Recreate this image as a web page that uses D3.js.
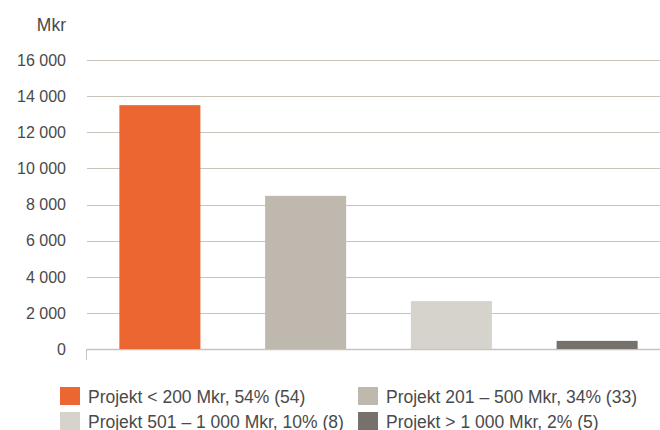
<!DOCTYPE html>
<html>
<head>
<meta charset="utf-8">
<script src="https://cdn.jsdelivr.net/npm/d3@7"></script>
<style>
  body { margin: 0; background: #fff; }
  text { font-family: "Liberation Sans", Arial, sans-serif; fill: #4a4a4a; }
</style>
</head>
<body>
<div id="chart"></div>
<script>
const categories = ["Projekt < 200 Mkr, 54% (54)", "Projekt 201 – 500 Mkr, 34% (33)",
    "Projekt 501 – 1 000 Mkr, 10% (8)", "Projekt > 1 000 Mkr, 2% (5)"];
const values = [13500, 8480, 2650, 450];
const colors = ["#ec6632", "#bfb8ae", "#d6d2cc", "#77716e"];
const yTicks = [0, 2000, 4000, 6000, 8000, 10000, 12000, 14000, 16000];
const unitLabel = "Mkr";

const width = 660, height = 430;

const svg = d3.select("#chart")
    .append("svg")
    .attr("width", width)
    .attr("height", height);

const x = d3.scaleBand()
    .domain(categories)
    .range([87, 670])
    .paddingInner(0.444)
    .paddingOuter(0.222);

const y = d3.scaleLinear()
    .domain([0, 16000])
    .range([349, 60]);

const fmt = d => d3.format(",")(d).replace(/,/g, " ");

// gridlines
svg.append("g")
    .selectAll("line")
    .data(yTicks)
    .join("line")
    .attr("x1", 87)
    .attr("x2", width)
    .attr("y1", d => Math.round(y(d)) + 0.5)
    .attr("y2", d => Math.round(y(d)) + 0.5)
    .attr("stroke", "#c9c3bc")
    .attr("stroke-width", d => d === 0 ? 1.5 : 1);

// y tick labels
svg.append("g")
    .selectAll("text")
    .data(yTicks)
    .join("text")
    .attr("x", 66)
    .attr("y", d => y(d))
    .attr("dy", "0.36em")
    .attr("text-anchor", "end")
    .attr("font-size", 16)
    .text(fmt);

svg.append("text")
    .attr("x", 66)
    .attr("y", 31)
    .attr("text-anchor", "end")
    .attr("font-size", 17.5)
    .text(unitLabel);

// small tick at axis origin
svg.append("line")
    .attr("x1", 86.5).attr("x2", 86.5)
    .attr("y1", y(0)).attr("y2", y(0) + 11)
    .attr("stroke", "#c9c3bc")
    .attr("stroke-width", 1);

// bars
svg.append("g")
    .selectAll("rect")
    .data(values)
    .join("rect")
    .attr("x", (d, i) => x(categories[i]))
    .attr("width", x.bandwidth())
    .attr("y", d => y(d))
    .attr("height", d => y(0) - y(d))
    .attr("fill", (d, i) => colors[i]);

// legend
const legend = svg.append("g");
const item = legend.selectAll("g")
    .data(categories)
    .join("g")
    .attr("transform", (d, i) => `translate(${i % 2 === 0 ? 60 : 358}, ${i < 2 ? 387 : 412})`);

item.append("rect")
    .attr("width", 20)
    .attr("height", 18)
    .attr("fill", (d, i) => colors[i]);

item.append("text")
    .attr("x", 28)
    .attr("y", 15.5)
    .attr("font-size", 17.5)
    .text(d => d);
</script>
</body>
</html>
